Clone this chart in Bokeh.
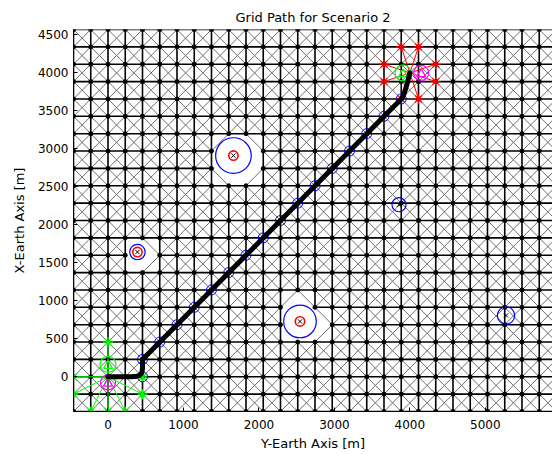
import numpy as np
from bokeh.plotting import figure
from bokeh.models import Range1d, FixedTicker
from bokeh.embed import file_html
from bokeh.resources import INLINE

# ---- grid definition -------------------------------------------------------
GRID_STEP = 228.57          # node spacing [m]
GRID_COLS = (-2, 27)        # node column indices (Y-Earth)
GRID_ROWS = (-2, 20)        # node row indices (X-Earth)

# ---- obstacles: red core, blue safety ring, grid clearance -----------------
OBS_X = [1662, 2544, 390]
OBS_Y = [2912, 728, 1642]
OBS_CORE_R = [62, 62, 62]
OBS_RING_R = [236, 216, 102]
OBS_CLEAR_R = [245, 230, 150]

# ---- other threats (blue ring only) ----------------------------------------
THREAT_X = [3856, 5274]
THREAT_Y = [2265, 807]
THREAT_R = [93, 115]

# ---- start / goal -----------------------------------------------------------
START = (0, 0)
GOAL = (4000, 4000)
START_NBR_I = [0, -2, -2, 2, -1, 0, 1, 2]
START_NBR_J = [2, 0, -1, -1, -2, -2, -2, 0]
GOAL_NBR_I = [17, 18, 16, 19, 16, 19, 18, 17]
GOAL_NBR_J = [19, 19, 18, 18, 17, 17, 16, 16]

# ---- planned waypoints (grid node indices) ----------------------------------
WP_I = [2, 2, 3, 4, 5, 6, 7, 8, 9, 10, 11, 12, 13, 14, 15, 16, 17]
WP_J = [0, 1, 2, 3, 4, 5, 6, 7, 8, 9, 10, 11, 12, 13, 14, 15, 16]

# ---- flown path [m] -----------------------------------------------------------
PATH_X = [0, 300, 360, 405, 437, 452, 457, 457, 462, 480,
          3886, 3905, 3925, 3950, 3975, 3990, 4000]
PATH_Y = [0, 0, 2, 12, 35, 70, 110, 200, 228, 251,
          3657, 3685, 3730, 3810, 3900, 3960, 4000]

X_TICKS = [0, 1000, 2000, 3000, 4000, 5000]
Y_TICKS = [0, 500, 1000, 1500, 2000, 2500, 3000, 3500, 4000, 4500]

FONT = "DejaVu Sans"


def seg_dist(x0, y0, x1, y1, px, py):
    dx, dy = x1 - x0, y1 - y0
    t = ((px - x0) * dx + (py - y0) * dy) / (dx * dx + dy * dy)
    t = min(max(t, 0.0), 1.0)
    return np.hypot(px - (x0 + t * dx), py - (y0 + t * dy))


def blocked(x0, y0, x1, y1):
    for ox, oy, cr in zip(OBS_X, OBS_Y, OBS_CLEAR_R):
        if seg_dist(x0, y0, x1, y1, ox, oy) < cr:
            return True
    return False


# build grid edges, dropping those that pass through an obstacle clearance
hv = dict(x0=[], y0=[], x1=[], y1=[])
dg = dict(x0=[], y0=[], x1=[], y1=[])
nodes = set()
imin, imax = GRID_COLS
jmin, jmax = GRID_ROWS
for i in range(imin, imax + 1):
    for j in range(jmin, jmax + 1):
        cand = []
        if i < imax:
            cand.append((hv, (i, j), (i + 1, j)))
        if j < jmax:
            cand.append((hv, (i, j), (i, j + 1)))
        if i < imax and j < jmax:
            cand.append((dg, (i, j), (i + 1, j + 1)))
            cand.append((dg, (i + 1, j), (i, j + 1)))
        for store, a, b in cand:
            x0, y0 = a[0] * GRID_STEP, a[1] * GRID_STEP
            x1, y1 = b[0] * GRID_STEP, b[1] * GRID_STEP
            if blocked(x0, y0, x1, y1):
                continue
            store["x0"].append(x0); store["y0"].append(y0)
            store["x1"].append(x1); store["y1"].append(y1)
            nodes.add(a); nodes.add(b)

node_x = [n[0] * GRID_STEP for n in nodes]
node_y = [n[1] * GRID_STEP for n in nodes]

p = figure(width=552, height=454, output_backend="svg", toolbar_location=None,
           x_range=Range1d(imin * GRID_STEP, 5890),
           y_range=Range1d(jmin * GRID_STEP, jmax * GRID_STEP),
           min_border_left=73, min_border_right=0, min_border_top=29,
           min_border_bottom=43, title="Grid Path for Scenario 2")
p.outline_line_color = None
p.background_fill_color = "white"
p.border_fill_color = "white"
p.xgrid.visible = False
p.ygrid.visible = False

p.title.align = "center"
p.title.text_font = FONT
p.title.text_font_size = "13px"
p.title.text_font_style = "normal"
p.title.text_color = "black"

p.xaxis.axis_label = "Y-Earth Axis [m]"
p.yaxis.axis_label = "X-Earth Axis [m]"
p.xaxis.ticker = FixedTicker(ticks=X_TICKS)
p.yaxis.ticker = FixedTicker(ticks=Y_TICKS)
for ax in (p.xaxis, p.yaxis):
    ax.major_tick_in = 4
    ax.major_tick_out = 0
    ax.minor_tick_line_color = None
    ax.axis_line_color = "black"
    ax.major_tick_line_color = "black"
    ax.major_label_text_font = FONT
    ax.major_label_text_font_size = "12px"
    ax.major_label_text_color = "black"
    ax.axis_label_text_font = FONT
    ax.axis_label_text_font_size = "13px"
    ax.axis_label_text_font_style = "normal"
    ax.axis_label_text_color = "black"
p.xaxis.major_label_standoff = 8
p.yaxis.major_label_standoff = 5
p.xaxis.axis_label_standoff = 4
p.yaxis.axis_label_standoff = 8

# grid
p.segment(x0="x0", y0="y0", x1="x1", y1="y1", source=dg,
          line_color="#6e6e6e", line_width=1)
p.segment(x0="x0", y0="y0", x1="x1", y1="y1", source=hv,
          line_color="black", line_width=1.6)
p.scatter(node_x, node_y, marker="circle", size=4, fill_color="black",
          line_color="black")

# obstacles and threats
p.circle(OBS_X, OBS_Y, radius=OBS_RING_R, fill_color=None, line_color="blue",
         line_width=1.2)
p.circle(THREAT_X, THREAT_Y, radius=THREAT_R, fill_color=None,
         line_color="blue", line_width=1.2)
p.circle(OBS_X, OBS_Y, radius=OBS_CORE_R, fill_color=None, line_color="red",
         line_width=1.6)
p.scatter(OBS_X + THREAT_X, OBS_Y + THREAT_Y, marker="x", size=6,
          line_color="black", line_width=1)

# start / goal neighbour fans
sx = [i * GRID_STEP for i in START_NBR_I]
sy = [j * GRID_STEP for j in START_NBR_J]
gx = [i * GRID_STEP for i in GOAL_NBR_I]
gy = [j * GRID_STEP for j in GOAL_NBR_J]
p.segment(x0=[START[0]] * len(sx), y0=[START[1]] * len(sy), x1=sx, y1=sy,
          line_color="#00ff00", line_width=1)
p.segment(x0=[GOAL[0]] * len(gx), y0=[GOAL[1]] * len(gy), x1=gx, y1=gy,
          line_color="red", line_width=1)
p.scatter(sx, sy, marker="asterisk", size=10, line_color="#00ff00",
          line_width=1.2)
p.scatter(gx, gy, marker="asterisk", size=10, line_color="red",
          line_width=1.2)

# aircraft symbols at start and goal
p.scatter([0, 3910], [165, 4000], marker="circle", size=16, fill_color=None,
          line_color="#00ff00", line_width=1.2)
p.scatter([0, 3910], [145, 3985], marker="triangle", size=9, fill_color=None,
          line_color="#00ff00", line_width=1.2)
p.scatter([0, 4150], [-75, 4000], marker="circle", size=15, fill_color=None,
          line_color="magenta", line_width=1.2)
p.scatter([0, 4150], [-90, 3985], marker="triangle", size=9, fill_color=None,
          line_color="magenta", line_width=1.2)

# waypoints and flown path
wx = [i * GRID_STEP for i in WP_I]
wy = [j * GRID_STEP for j in WP_J]
p.scatter(wx, wy, marker="circle", size=10, fill_color=None,
          line_color="blue", line_width=1)
p.line(PATH_X, PATH_Y, line_color="black", line_width=5, line_join="round",
       line_cap="round")

open("out.html", "w").write(file_html(p, INLINE))
